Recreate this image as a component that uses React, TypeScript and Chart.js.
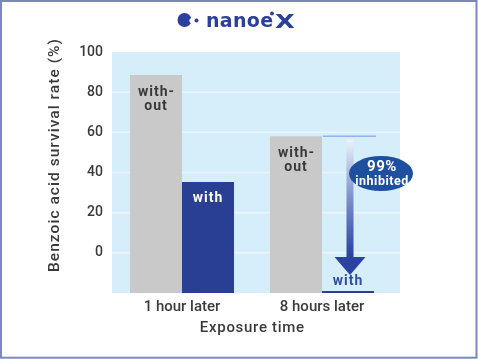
import React, { useEffect, useRef } from 'react';
import { Chart, registerables } from 'chart.js';

Chart.register(...registerables);

const categories = ['1 hour later', '8 hours later'];
const withoutValues = [88.5, 58];
const withValues = [35.3, -19];
const yMin = -20;
const yMax = 100;
const yStep = 20;
const withoutLabel = ['with-', 'out'];
const withLabel = 'with';
const inhibitedLabel = ['99%', 'inhibited'];
const yTitle = 'Benzoic acid survival rate (%)';
const xTitle = 'Exposure time';
const logoText = 'nanoe';
const logoMark = 'X';

const FONT = 'Roboto, "DejaVu Sans", sans-serif';
const TEXT = '#3a3a3a';
const GRAY = '#c9c9c9';
const BLUE = '#283f93';
const PLOT_BG = '#d6edfa';
const GRID = '#e9f5fd';
const BORDER = '#7b86c3';
const LOGO = '#2b3f9c';

function fitText(ctx: any, text: string, x: number, y: number, target: number) {
  ctx.letterSpacing = '0px';
  const w = ctx.measureText(text).width;
  const sp = Math.max(0, (target - w) / text.length);
  ctx.letterSpacing = `${sp}px`;
  ctx.fillText(text, x + sp / 2, y);
  ctx.letterSpacing = '0px';
}

const decorPlugin = {
  id: 'decor',
  beforeDraw(chart: any) {
    const { ctx, width, height } = chart;
    ctx.save();
    ctx.fillStyle = '#ffffff';
    ctx.fillRect(0, 0, width, height);
    // page border
    ctx.strokeStyle = BORDER;
    ctx.lineWidth = 2;
    ctx.strokeRect(1, 1, width - 2.5, height - 2.3);
    // logo
    ctx.fillStyle = LOGO;
    ctx.beginPath();
    ctx.arc(184.5, 20, 7, 0, Math.PI * 2);
    ctx.fill();
    ctx.fillStyle = '#ffffff';
    ctx.beginPath();
    ctx.arc(192, 20.5, 2.6, 0, Math.PI * 2);
    ctx.fill();
    ctx.fillStyle = LOGO;
    ctx.beginPath();
    ctx.arc(196.5, 20.5, 2, 0, Math.PI * 2);
    ctx.fill();
    ctx.font = 'bold 19px "DejaVu Sans", sans-serif';
    ctx.textBaseline = 'alphabetic';
    ctx.textAlign = 'left';
    (ctx as any).letterSpacing = '0.3px';
    ctx.fillText(logoText, 206, 27);
    (ctx as any).letterSpacing = '0px';
    ctx.beginPath();
    ctx.arc(272, 13.5, 1.9, 0, Math.PI * 2);
    ctx.fill();
    ctx.save();
    ctx.translate(275, 27.5);
    ctx.scale(1.35, 1);
    ctx.font = 'bold 19px "DejaVu Sans", sans-serif';
    ctx.fillText(logoMark, 0, 0);
    ctx.restore();
    ctx.restore();
  },
  beforeDatasetsDraw(chart: any) {
    const { ctx, chartArea } = chart;
    const y = chart.scales.y;
    const ext = 8;
    ctx.save();
    ctx.fillStyle = PLOT_BG;
    ctx.fillRect(chartArea.left, chartArea.top, chartArea.right - chartArea.left + ext, chartArea.bottom - chartArea.top);
    ctx.strokeStyle = GRID;
    ctx.lineWidth = 1.5;
    y.ticks.forEach((t: any) => {
      if (t.value <= yMin || t.value >= yMax) return;
      const py = y.getPixelForValue(t.value);
      ctx.beginPath();
      ctx.moveTo(chartArea.left, py);
      ctx.lineTo(chartArea.right + ext, py);
      ctx.stroke();
    });
    ctx.restore();
  },
  afterDatasetsDraw(chart: any) {
    const { ctx } = chart;
    const y = chart.scales.y;
    const grayMeta = chart.getDatasetMeta(0);
    const blueMeta = chart.getDatasetMeta(1);
    ctx.save();
    ctx.textAlign = 'center';
    ctx.textBaseline = 'middle';
    grayMeta.data.forEach((bar: any) => {
      ctx.fillStyle = TEXT;
      ctx.font = `bold 14px ${FONT}`;
      (ctx as any).letterSpacing = '1px';
      ctx.fillText(withoutLabel[0], bar.x + 0.5, bar.y + 17);
      ctx.fillText(withoutLabel[1], bar.x, bar.y + 31);
    });
    blueMeta.data.forEach((bar: any) => {
      ctx.font = `bold 14px ${FONT}`;
      (ctx as any).letterSpacing = '1px';
      const h = bar.base - bar.y;
      if (h > 30) {
        ctx.fillStyle = '#ffffff';
        ctx.fillText(withLabel, bar.x, bar.y + 17);
      } else {
        ctx.fillStyle = '#2f4ea3';
        ctx.fillText(withLabel, bar.x, bar.y - 9);
      }
    });
    (ctx as any).letterSpacing = '0px';

    const blue2 = blueMeta.data[1];
    const refY = y.getPixelForValue(withoutValues[1]);
    ctx.strokeStyle = '#8fb6e4';
    ctx.lineWidth = 1.5;
    ctx.beginPath();
    ctx.moveTo(blue2.x - blue2.width / 2 + 1, refY);
    ctx.lineTo(blue2.x + blue2.width / 2 + 2, refY);
    ctx.stroke();

    const ax = blue2.x + 2;
    const topY = refY + 3;
    const tipY = blue2.y - 16;
    const headH = 18;
    const headW = 31;
    const shaftW = 7;
    const grad = ctx.createLinearGradient(0, topY, 0, tipY);
    grad.addColorStop(0, '#eef3fa');
    grad.addColorStop(0.4, '#8397cf');
    grad.addColorStop(0.85, '#2a43a0');
    grad.addColorStop(1, '#2a43a0');
    ctx.fillStyle = grad;
    ctx.beginPath();
    ctx.moveTo(ax - shaftW / 2, topY);
    ctx.lineTo(ax + shaftW / 2, topY);
    ctx.lineTo(ax + shaftW / 2, tipY - headH);
    ctx.lineTo(ax + headW / 2, tipY - headH);
    ctx.lineTo(ax, tipY);
    ctx.lineTo(ax - headW / 2, tipY - headH);
    ctx.lineTo(ax - shaftW / 2, tipY - headH);
    ctx.closePath();
    ctx.fill();

    const ex = blue2.x + 33;
    const ey = y.getPixelForValue(39.5);
    ctx.fillStyle = '#1f4f9f';
    ctx.beginPath();
    ctx.ellipse(ex, ey, 32, 17.5, 0, 0, Math.PI * 2);
    ctx.fill();
    ctx.fillStyle = '#ffffff';
    ctx.font = `bold 15px ${FONT}`;
    (ctx as any).letterSpacing = '0.5px';
    ctx.fillText(inhibitedLabel[0], ex + 1, ey - 6);
    ctx.font = `bold 12.5px ${FONT}`;
    ctx.fillText(inhibitedLabel[1], ex + 1, ey + 8.5);
    (ctx as any).letterSpacing = '0px';
    ctx.restore();
  },
  afterDraw(chart: any) {
    const { ctx, chartArea } = chart;
    ctx.save();
    ctx.fillStyle = TEXT;
    ctx.textAlign = 'center';
    ctx.textBaseline = 'middle';
    ctx.font = `500 15px ${FONT}`;
    fitText(ctx, xTitle, (chartArea.left + chartArea.right) / 2, 328, 105);
    ctx.translate(55, 155.5);
    ctx.rotate(-Math.PI / 2);
    ctx.font = `500 15.5px ${FONT}`;
    fitText(ctx, yTitle, 0, 0, 234);
    ctx.restore();
  },
};

export default function App() {
  const ref = useRef<HTMLCanvasElement | null>(null);
  useEffect(() => {
    document.body.style.margin = '0';
    const canvas = ref.current;
    if (!canvas) return;
    const chart = new Chart(canvas, {
      type: 'bar',
      data: {
        labels: categories,
        datasets: [
          {
            label: 'without',
            data: withoutValues,
            backgroundColor: GRAY,
            base: yMin,
            categoryPercentage: 0.743,
            barPercentage: 1,
          } as any,
          {
            label: 'with',
            data: withValues,
            backgroundColor: BLUE,
            base: yMin,
            categoryPercentage: 0.743,
            barPercentage: 1,
          } as any,
        ],
      },
      options: {
        animation: false,
        responsive: false,
        devicePixelRatio: 1,
        layout: { padding: { top: 52, right: 86, bottom: 0, left: 0 } },
        plugins: {
          legend: { display: false },
          tooltip: { enabled: false },
        },
        scales: {
          x: {
            grid: { display: false, drawTicks: false },
            border: { display: false },
            ticks: {
              color: TEXT,
              font: { family: FONT, size: 15, weight: '500' as any },
              padding: 5,
            },
            afterFit(scale: any) {
              scale.height = 66;
            },
          },
          y: {
            min: yMin,
            max: yMax,
            grid: { display: false, drawTicks: false },
            border: { display: false },
            ticks: {
              stepSize: yStep,
              color: TEXT,
              font: { family: FONT, size: 14, weight: '500' as any },
              padding: 9,
              callback: (v: any) => (Number(v) < 0 ? '' : String(v)),
            },
            afterFit(scale: any) {
              scale.width = 112;
            },
          },
        },
      },
      plugins: [decorPlugin],
    });
    return () => chart.destroy();
  }, []);
  return (
    <canvas
      ref={ref}
      width={478}
      height={359}
      style={{ position: 'fixed', left: 0, top: 0, width: 478, height: 359 }}
    />
  );
}
